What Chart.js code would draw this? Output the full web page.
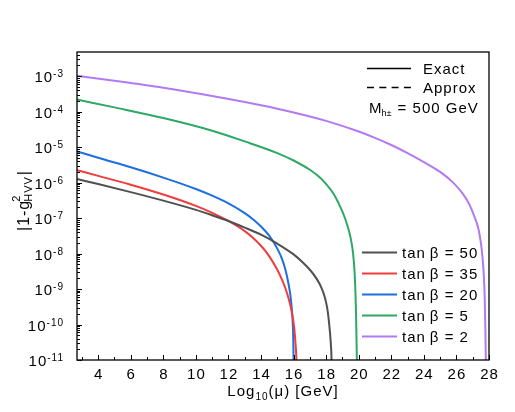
<!DOCTYPE html>
<html>
<head>
<meta charset="utf-8">
<script src="https://cdn.jsdelivr.net/npm/chart.js@4"></script>
<style>
html, body { margin: 0; padding: 0; background: #fff; }
</style>
</head>
<body>
<canvas id="grafico_hvv" width="515" height="412"></canvas>
<script>
// dados (x = log10(mu), y = |1 - g^2_HVV|)
const serieLabels = ["tan\u2009\u03b2 = 50", "tan\u2009\u03b2 = 35", "tan\u2009\u03b2 = 20", "tan\u2009\u03b2 = 5", "tan\u2009\u03b2 = 2"]
const serieCores = ["#505050", "#f03c3c", "#1c6fdf", "#2ea865", "#b27af2"]

const tb50X = [2.7, 4, 6, 8, 10, 11, 12, 13, 14, 15, 16, 16.5, 17, 17.4, 17.7, 17.9, 18.05, 18.15, 18.22, 18.28, 18.33, 18.36]
const tb50Y = [1.26e-6, 9.1e-7, 5.4e-7, 3.1e-7, 1.7e-7, 1.2e-7, 8.3e-8, 5.4e-8, 3.4e-8, 1.9e-8, 9.5e-9, 6.0e-9, 3.5e-9, 2.0e-9, 1.12e-9, 6.3e-10, 3.2e-10, 1.5e-10, 7.1e-11, 3.2e-11, 1e-11, 1e-12]

const tb35X = [2.7, 4, 6, 8, 10, 11, 12, 13, 13.5, 14, 14.5, 15, 15.3, 15.6, 15.8, 15.95, 16.05, 16.12, 16.17, 16.2]
const tb35Y = [2.24e-6, 1.55e-6, 8.7e-7, 4.6e-7, 2.2e-7, 1.41e-7, 8.3e-8, 4.3e-8, 2.8e-8, 1.66e-8, 8.5e-9, 3.5e-9, 1.78e-9, 7.6e-10, 3.5e-10, 1.58e-10, 7.1e-11, 2.8e-11, 1e-11, 1e-12]

const tb20X = [2.7, 4, 6, 8, 10, 11, 12, 13, 13.5, 14, 14.5, 15, 15.3, 15.5, 15.7, 15.8, 15.9, 15.95, 15.98, 16.0, 16.02]
const tb20Y = [7.6e-6, 5.0e-6, 2.7e-6, 1.38e-6, 6.6e-7, 4.3e-7, 2.6e-7, 1.38e-7, 9.3e-8, 5.8e-8, 3.2e-8, 1.38e-8, 6.9e-9, 3.5e-9, 1.32e-9, 6.8e-10, 2.5e-10, 1.05e-10, 4.0e-11, 1e-11, 1e-12]

const tb5X = [2.7, 5, 8, 11, 13, 15, 16, 17, 17.6, 18, 18.5, 19, 19.3, 19.5, 19.65, 19.75, 19.8, 19.84, 19.87, 19.89, 19.9]
const tb5Y = [2.19e-4, 1.32e-4, 6.6e-5, 2.9e-5, 1.45e-5, 6.8e-6, 4.2e-6, 2.3e-6, 1.41e-6, 9.1e-7, 4.5e-7, 1.51e-7, 6.3e-8, 2.8e-8, 1.05e-8, 2.8e-9, 7.9e-10, 1.58e-10, 2.5e-11, 6.3e-12, 1e-12]

const tb2X = [2.7, 5, 8, 11, 14, 16, 18, 20, 21, 22, 23, 24, 25, 25.8, 26.4, 26.8, 27.1, 27.35, 27.5, 27.6, 27.68, 27.74, 27.78, 27.81, 27.83]
const tb2Y = [1.02e-3, 7.4e-4, 4.7e-4, 2.75e-4, 1.51e-4, 9.5e-5, 5.5e-5, 2.75e-5, 1.82e-5, 1.15e-5, 6.8e-6, 3.8e-6, 2.0e-6, 1.0e-6, 4.8e-7, 2.4e-7, 1.12e-7, 5.0e-8, 2.0e-8, 7.9e-9, 2.5e-9, 5.0e-10, 6.3e-11, 6.3e-12, 1e-12]

const xTickLabels = [4, 6, 8, 10, 12, 14, 16, 18, 20, 22, 24, 26, 28]
const yTickExps = [-3, -4, -5, -6, -7, -8, -9, -10, -11]

const FONTE = "'Liberation Sans', Arial, sans-serif"

const juntarPontos = (xs, ys) => xs.map((x, i) => ({ x, y: ys[i] }))

const prepararDados = () => {
    const series = [[tb50X, tb50Y], [tb35X, tb35Y], [tb20X, tb20Y], [tb5X, tb5Y], [tb2X, tb2Y]]
    return {
        datasets: series.map((s, i) => ({
            label: serieLabels[i],
            data: juntarPontos(s[0], s[1]),
            borderColor: serieCores[i],
            backgroundColor: serieCores[i],
            borderWidth: 2,
            pointRadius: 0,
            cubicInterpolationMode: "monotone",
            fill: false
        }))
    }
}

// desenha moldura, ticks internos, rotulos e legendas
const decoracoes = {
    id: "decoracoes",
    afterDraw(chart) {
        const { ctx, chartArea: a, scales: { x, y } } = chart
        ctx.save()
        ctx.letterSpacing = "1px"
        ctx.strokeStyle = "#000"
        ctx.fillStyle = "#000"
        ctx.lineWidth = 1

        // ticks do eixo y (dentro)
        for (let e = -11; e <= -3; e++) {
            for (let m = 1; m <= 9; m++) {
                const v = m * Math.pow(10, e)
                if (v > y.max) break
                const py = Math.round(y.getPixelForValue(v)) + 0.5
                const len = m === 1 ? 5 : 3
                ctx.beginPath()
                ctx.moveTo(a.left, py)
                ctx.lineTo(a.left + len, py)
                ctx.stroke()
            }
        }
        // ticks do eixo x (dentro)
        for (let v = 3; v <= 28; v++) {
            const px = Math.round(x.getPixelForValue(v)) + 0.5
            const len = v % 2 === 0 ? 5 : 3
            ctx.beginPath()
            ctx.moveTo(px, a.bottom)
            ctx.lineTo(px, a.bottom - len)
            ctx.stroke()
        }

        // moldura
        ctx.lineWidth = 1.3
        ctx.strokeRect(a.left, a.top, a.right - a.left, a.bottom - a.top)

        // rotulos x
        ctx.font = "15px " + FONTE
        ctx.textAlign = "center"
        ctx.textBaseline = "alphabetic"
        xTickLabels.forEach(v => {
            ctx.fillText(String(v), x.getPixelForValue(v) + 0.5, a.bottom + 19)
        })

        // rotulos y: 10^e
        ctx.textAlign = "left"
        yTickExps.forEach(e => {
            const py = y.getPixelForValue(Math.pow(10, e))
            ctx.font = "10px " + FONTE
            const sup = String(e)
            const wSup = ctx.measureText(sup).width
            ctx.font = "15px " + FONTE
            const wBase = ctx.measureText("10").width
            const right = a.left - 13
            ctx.fillText("10", right - wSup - wBase, py + 6)
            ctx.font = "10px " + FONTE
            ctx.fillText(sup, right - wSup, py + 1)
        })

        // titulo x: Log10(mu) [GeV]
        const tituloX = [["Log", 15, 0], ["10", 10, 4], ["(\u03bc) [GeV]", 15, 0]]
        let largura = 0
        tituloX.forEach(p => { ctx.font = p[1] + "px " + FONTE; largura += ctx.measureText(p[0]).width })
        let cx = (a.left + a.right) / 2 - largura / 2
        tituloX.forEach(p => {
            ctx.font = p[1] + "px " + FONTE
            ctx.fillText(p[0], cx, 396 + p[2])
            cx += ctx.measureText(p[0]).width
        })

        // titulo y: |1-g^2_HVV|
        ctx.save()
        ctx.translate(29, 200)
        ctx.rotate(-Math.PI / 2)
        const parte1 = "|1-g"
        ctx.font = "16px " + FONTE
        const w1 = ctx.measureText(parte1).width
        ctx.font = "11px " + FONTE
        const wSub = ctx.measureText("HVV").width
        ctx.font = "16px " + FONTE
        const wBar = ctx.measureText("|").width
        let tx = -(w1 + wSub + wBar) / 2
        ctx.fillText(parte1, tx, 0)
        tx += w1 - 2
        ctx.font = "11px " + FONTE
        ctx.fillText("2", tx, -9)
        ctx.fillText("HVV", tx, 3)
        tx += wSub + 1
        ctx.font = "16px " + FONTE
        ctx.fillText("|", tx, 0)
        ctx.restore()

        // legenda Exact / Approx
        ctx.lineWidth = 1.5
        ctx.beginPath()
        ctx.moveTo(367, 68.5)
        ctx.lineTo(411, 68.5)
        ctx.stroke()
        ctx.setLineDash([7, 5.3])
        ctx.beginPath()
        ctx.moveTo(367, 87.5)
        ctx.lineTo(411, 87.5)
        ctx.stroke()
        ctx.setLineDash([])
        ctx.font = "15px " + FONTE
        ctx.fillText("Exact", 423, 74)
        ctx.fillText("Approx", 423, 93)

        // M_h+- = 500 GeV
        let mx = 369
        ctx.fillText("M", mx, 113)
        mx += ctx.measureText("M").width - 1
        ctx.font = "9px " + FONTE
        ctx.letterSpacing = "0px"
        ctx.fillText("h\u00b1", mx, 116)
        mx += ctx.measureText("h\u00b1").width + 1
        ctx.letterSpacing = "1px"
        ctx.font = "15px " + FONTE
        ctx.fillText(" = 500 GeV", mx, 113)

        // legenda das series
        ctx.lineWidth = 2
        serieLabels.forEach((lab, i) => {
            const cy = 252 + i * 21
            ctx.strokeStyle = serieCores[i]
            ctx.beginPath()
            ctx.moveTo(362, cy + 0.5)
            ctx.lineTo(397, cy + 0.5)
            ctx.stroke()
            ctx.fillStyle = "#000"
            ctx.font = "15px " + FONTE
            ctx.fillText(lab, 402, cy + 6)
        })

        ctx.restore()
    }
}

const criarGrafico = () => {
    const ctx = document.querySelector("#grafico_hvv")
    new Chart(ctx, {
        type: "line",
        data: prepararDados(),
        options: {
            responsive: false,
            animation: false,
            devicePixelRatio: 1,
            layout: { padding: { left: 77, top: 52, right: 26, bottom: 52 } },
            plugins: {
                legend: { display: false },
                tooltip: { enabled: false },
                title: { display: false }
            },
            scales: {
                x: {
                    type: "linear",
                    min: 2.7,
                    max: 28,
                    ticks: { display: false, stepSize: 1 },
                    grid: { display: false, drawTicks: false },
                    border: { display: false },
                    afterFit: s => { s.height = 0 }
                },
                y: {
                    type: "logarithmic",
                    min: 1e-11,
                    max: 4.8e-3,
                    ticks: { display: false },
                    grid: { display: false, drawTicks: false },
                    border: { display: false },
                    afterFit: s => { s.width = 0 }
                }
            }
        },
        plugins: [decoracoes]
    })
}

criarGrafico()
</script>
</body>
</html>
